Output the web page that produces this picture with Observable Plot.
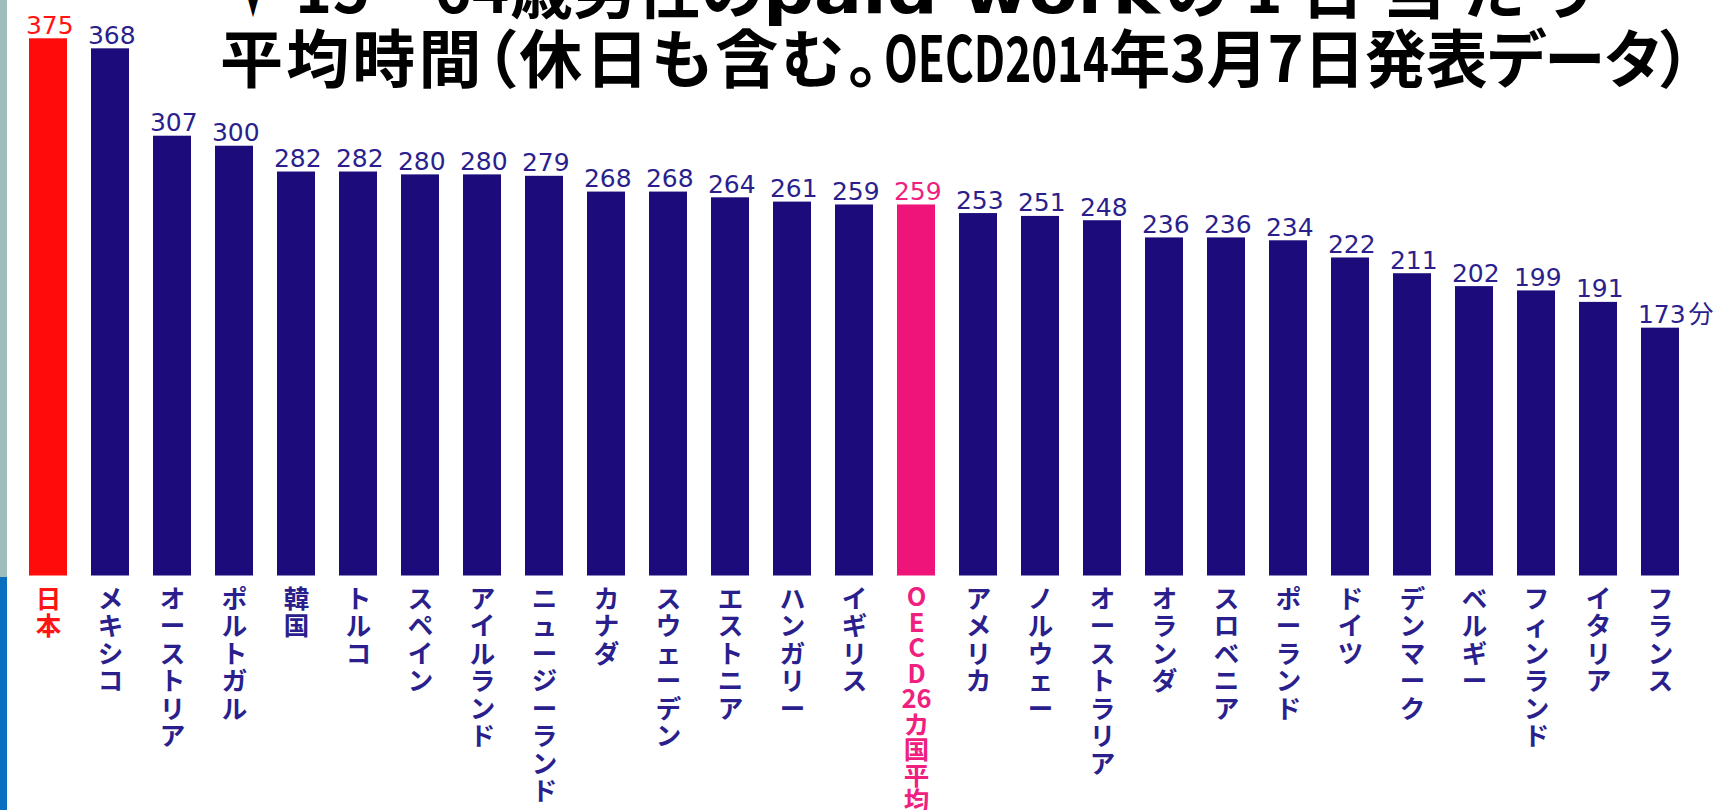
<!DOCTYPE html>
<html><head><meta charset="utf-8">
<script src="https://cdn.jsdelivr.net/npm/d3@7"></script>
<script src="https://cdn.jsdelivr.net/npm/@observablehq/plot@0.6"></script>
<style>
html,body{margin:0;padding:0;background:#fff;overflow:hidden;}
#wrap{position:relative;width:1722px;height:810px;}
#stripTop{position:absolute;left:0;top:0;width:7px;height:577px;background:#9fbebb;}
#stripBottom{position:absolute;left:0;top:577px;width:7px;height:233px;background:#0a6fbe;}
g[aria-label="country-labels"] text, g[aria-label="oecd-label"] text{font-feature-settings:"vert" 1;}
g[aria-label="value-labels"] text{letter-spacing:2.5px;}
</style></head><body>
<div id="wrap"><div id="chart"></div><div id="stripTop"></div><div id="stripBottom"></div></div>
<script>
// ---- data ----
const countries = ["日本","メキシコ","オーストリア","ポルトガル","韓国","トルコ","スペイン","アイルランド","ニュージーランド","カナダ","スウェーデン","エストニア","ハンガリー","イギリス","OECD26カ国平均","アメリカ","ノルウェー","オーストラリア","オランダ","スロベニア","ポーランド","ドイツ","デンマーク","ベルギー","フィンランド","イタリア","フランス"];
const minutes = [375,368,307,300,282,282,280,280,279,268,268,264,261,259,259,253,251,248,236,236,234,222,211,202,199,191,173];
const unitLabel = "分";
const titleLine1 = ["▼", "15～64歳男性の", "paid work", "の1日当たり"];
const titleLine2 = ["平均時間（休日も含む。", "OECD2014", "年3月7日発表データ）"];

// ---- styling ----
const fillFor = {japan:"#ff0b0b", oecd:"#ee1479", other:"#1b0b7b"};
const labelColor = {japan:"#ff1414", oecd:"#f0207f", other:"#2a1f8c"};
const kindOf = c => c === "日本" ? "japan" : c.startsWith("OECD") ? "oecd" : "other";
const data = countries.map((c, i) => ({country: c, value: minutes[i], kind: kindOf(c)}));
const stack = s => s.match(/\d+|./gu).join("\n");
const cjk = "'Noto Sans CJK JP', 'Noto Sans', sans-serif";
const nameOpts = {x: "country", frameAnchor: "bottom", text: d => stack(d.country), fill: d => labelColor[d.kind],
  lineAnchor: "top", dy: 12, fontSize: 25.5, fontWeight: 700, fontFamily: cjk};

const chart = Plot.plot({
  width: 1722, height: 810,
  marginLeft: 0, marginRight: 14.1, marginTop: 38.3, marginBottom: 234.5,
  x: {domain: countries, paddingInner: 0.395, paddingOuter: 0.2913, axis: null},
  y: {domain: [0, 375], axis: null},
  color: {type: "identity"},
  style: {background: "transparent"},
  marks: [
    Plot.barY(data, {x: "country", y: "value", fill: d => fillFor[d.kind]}),
    Plot.text(data, {x: "country", y: "value", text: d => String(d.value), fill: d => labelColor[d.kind],
      lineAnchor: "bottom", dx: 1.25, dy: -5, fontSize: 25, fontFamily: "'DejaVu Sans', sans-serif",
      ariaLabel: "value-labels"}),
    Plot.text(data.slice(-1), {x: "country", y: "value", text: () => unitLabel, fill: d => labelColor[d.kind],
      textAnchor: "start", lineAnchor: "bottom", dx: 28, dy: -5, fontSize: 25, fontFamily: cjk}),
    Plot.text(data.filter(d => d.kind !== "oecd"), {...nameOpts, lineHeight: 1.08, ariaLabel: "country-labels"}),
    Plot.text(data.filter(d => d.kind === "oecd"), {...nameOpts, lineHeight: 1.0, ariaLabel: "oecd-label"})
  ]
});
document.getElementById("chart").appendChild(chart);

// ---- title (layout) ----
const titleLayout = [
  {text: titleLine1[0], x: 238, y: 13, w: 30, font: cjk, adjust: "spacingAndGlyphs"},
  {text: titleLine1[1], x: 295, y: 13, w: 468, font: cjk, adjust: "spacing"},
  {text: titleLine1[2], x: 763, y: 13, w: 397, font: "'DejaVu Sans', sans-serif", adjust: "spacingAndGlyphs"},
  {text: titleLine1[3], x: 1165, y: 13, w: 427, font: cjk, adjust: "spacing"},
  {text: titleLine2[0], x: 220, y: 82, w: 659, font: cjk, adjust: "spacing"},
  {text: titleLine2[1], x: 884, y: 82, w: 225, font: cjk, adjust: "spacingAndGlyphs"},
  {text: titleLine2[2], x: 1109, y: 82, w: 582, font: cjk, adjust: "spacingAndGlyphs"}
];
const tg = d3.select(chart).append("g").attr("aria-label", "title").attr("text-anchor", "start");
for (const s of titleLayout) {
  tg.append("text").attr("x", s.x).attr("y", s.y).attr("text-anchor", "start")
    .attr("textLength", s.w).attr("lengthAdjust", s.adjust)
    .style("font-family", s.font).style("font-size", "63px").style("font-weight", 700)
    .style("font-feature-settings", "'palt' 1")
    .attr("fill", "#000").text(s.text);
}
</script></body></html>
